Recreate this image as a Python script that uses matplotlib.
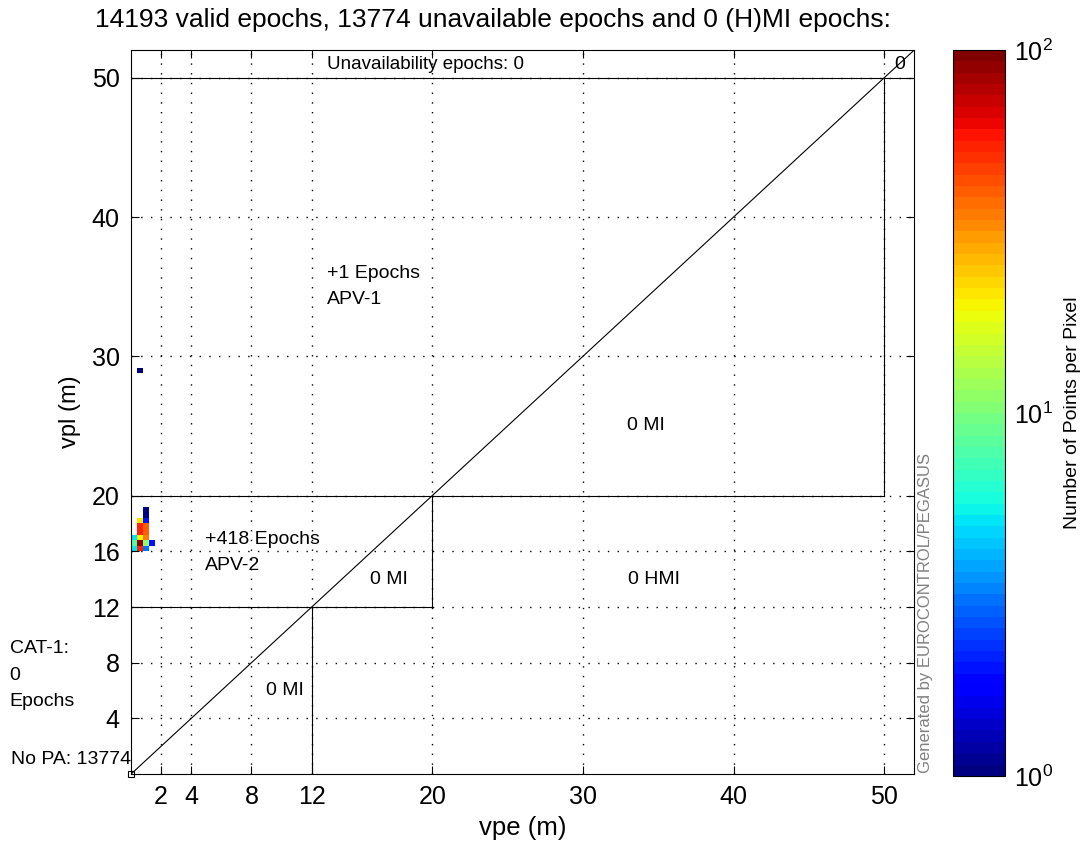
import numpy as np
import matplotlib
matplotlib.use("Agg")
import matplotlib.pyplot as plt
from matplotlib.colors import LogNorm, ListedColormap

plt.rcParams["font.family"] = ["Liberation Sans", "DejaVu Sans"]
plt.rcParams["mathtext.default"] = "regular"

# ----- data: 2-D histogram cells (bin lower-left corner, count) -----
cell_vpe = [0.8, 0.8, 0.4, 0.8, 0.4, 0.8, 0.4, 0.8, 0.0, 0.4, 0.8,
            0.0, 0.4, 0.8, 1.2, 0.0, 0.4, 0.8, 0.4]
cell_vpl = [18.8, 18.4, 18.0, 18.0, 17.6, 17.6, 17.2, 17.2, 16.8, 16.8, 16.8,
            16.4, 16.4, 16.4, 16.4, 16.0, 16.0, 16.0, 28.8]
cell_count = [1, 1, 22, 2, 55, 40, 55, 40, 5, 20, 35,
              8, 90, 11, 2, 5, 55, 3, 1]
bin_size = 0.4

xticks = [2, 4, 8, 12, 20, 30, 40, 50]
yticks = [4, 8, 12, 16, 20, 30, 40, 50]

n_valid, n_unavail, n_hmi = 14193, 13774, 0

# ----- figure -----
fig = plt.figure(figsize=(10.82, 8.47), dpi=100)
ax = fig.add_axes([0.121, 0.086, 0.724, 0.855])
cax = fig.add_axes([0.881, 0.084, 0.048, 0.857])

edges = np.arange(0, 52 + bin_size, bin_size)
H, xe, ye = np.histogram2d(np.array(cell_vpe) + bin_size / 2,
                           np.array(cell_vpl) + bin_size / 2,
                           bins=[edges, edges], weights=cell_count)
H = np.ma.masked_equal(H, 0)
jet64 = ListedColormap(plt.get_cmap("jet")(np.linspace(0, 1, 64)))
mesh = ax.pcolormesh(xe, ye, H.T, cmap=jet64, norm=LogNorm(1, 100))

# region boundaries
lw = 0.8
ax.plot([0, 52], [0, 52], color="k", lw=lw)
ax.plot([0, 52], [50, 50], color="k", lw=lw)
ax.plot([50, 50], [20, 50], color="k", lw=lw)
ax.plot([0, 50], [20, 20], color="k", lw=lw)
ax.plot([20, 20], [12, 20], color="k", lw=lw)
ax.plot([0, 20], [12, 12], color="k", lw=lw)
ax.plot([12, 12], [0, 12], color="k", lw=lw)
ax.plot([0], [0], "s", ms=4, mfc="none", mec="k", mew=0.8, clip_on=False)

ax.set_xlim(0, 52)
ax.set_ylim(0, 52)
ax.set_xticks(xticks)
ax.set_yticks(yticks)
ax.tick_params(direction="in", top=True, right=True, labelsize=18, length=6, pad=8)
ax.grid(True, color="k", linestyle=(0, (1, 6)), linewidth=1)
for s in ax.spines.values():
    s.set_linewidth(0.8)

tfs = 14
ls = 1.7
ax.text(13.0, 50.95, "Unavailability epochs: 0", fontsize=13.5, va="center")
ax.text(50.7, 50.95, "0", fontsize=tfs, va="center")
ax.text(13.0, 35.0, "+1 Epochs\nAPV-1", fontsize=tfs, va="center", linespacing=ls)
ax.text(34.2, 25.0, "0 MI", fontsize=tfs, ha="center", va="center")
ax.text(4.9, 15.9, "+418 Epochs\nAPV-2", fontsize=tfs, va="center", linespacing=ls)
ax.text(17.1, 14.0, "0 MI", fontsize=tfs, ha="center", va="center")
ax.text(34.7, 14.0, "0 HMI", fontsize=tfs, ha="center", va="center")
ax.text(10.2, 6.0, "0 MI", fontsize=tfs, ha="center", va="center")

fig.text(0.009, 1 - 675 / 847, "CAT-1:\n0\nEpochs", fontsize=tfs, va="center",
         linespacing=ls)
fig.text(0.121, 1 - 760 / 847, "No PA: %d" % n_unavail, fontsize=tfs,
         ha="right", va="center")
fig.text(0.855, 0.087, "Generated by EUROCONTROL/PEGASUS", rotation=90,
         fontsize=12, color="#808080", ha="center", va="bottom")

fig.text(493 / 1082, 1 - 20 / 847,
         "%d valid epochs, %d unavailable epochs and %d (H)MI epochs:"
         % (n_valid, n_unavail, n_hmi), fontsize=19, ha="center", va="center")
ax.set_xlabel("vpe (m)", fontsize=18.5, labelpad=5)
ax.set_ylabel("vpl (m)", fontsize=17, labelpad=8)

cb = fig.colorbar(mesh, cax=cax)
cb.set_ticks([1, 10, 100])
cb.set_ticklabels(["$10^0$", "$10^1$", "$10^2$"])
cb.ax.tick_params(labelsize=18, direction="in", length=0, pad=6)
cb.ax.minorticks_off()
cb.set_label("Number of Points per Pixel", fontsize=14, labelpad=8)
cb.outline.set_linewidth(0.8)

fig.savefig("out.png", dpi=100)
